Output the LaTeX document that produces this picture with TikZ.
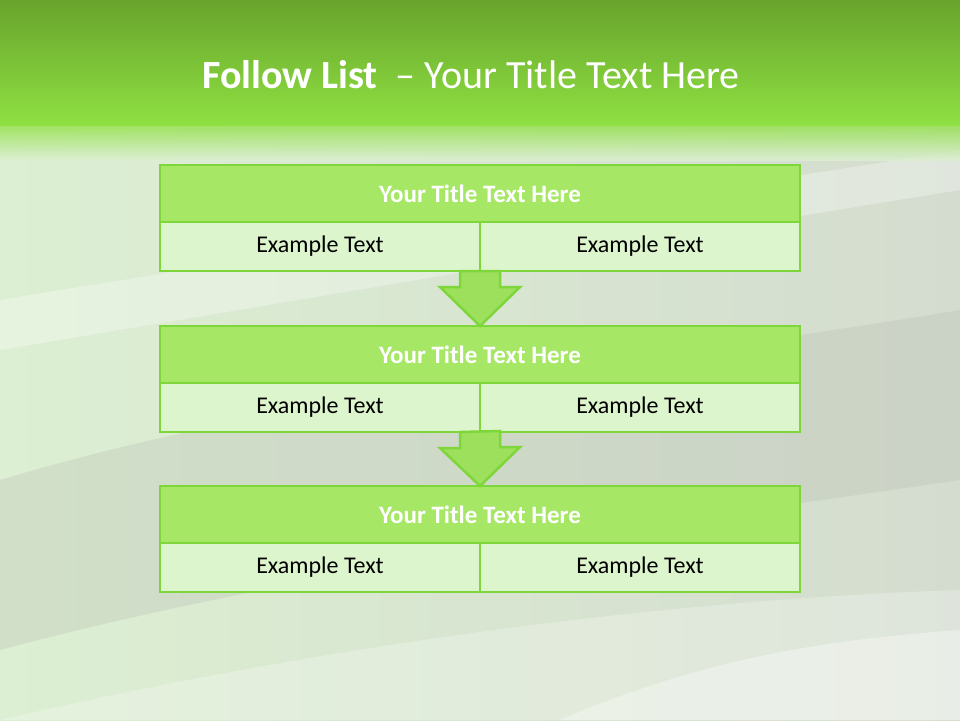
\documentclass[tikz,border=0pt]{standalone}
\usepackage{fontspec}
\setmainfont{Carlito}
\usetikzlibrary{positioning, calc}

\definecolor{bandtop}{HTML}{68A42C}
\definecolor{bandbot}{HTML}{8FE042}
\definecolor{paleleft}{HTML}{DCEFD2}
\definecolor{paleright}{HTML}{D4DCCF}
\definecolor{swoosh}{HTML}{B8BDB4}
\definecolor{headfill}{HTML}{A6E866}
\definecolor{cellfill}{HTML}{DDF5CC}
\definecolor{edgegreen}{HTML}{7ED63A}
\definecolor{arrowfill}{HTML}{9DE05C}

\begin{document}
\begin{tikzpicture}[x=1pt, y=-1pt,
  headrow/.style={draw=edgegreen, line width=2.5pt, fill=headfill,
                  minimum width=640, minimum height=57, outer sep=0pt,
                  text=white, font=\fontsize{25}{30}\selectfont\bfseries},
  cellrow/.style={draw=edgegreen, line width=2.5pt, fill=cellfill,
                  minimum width=320, minimum height=49, outer sep=0pt,
                  text=black, font=\fontsize{24}{29}\selectfont},
  flow/.style={draw=edgegreen, line width=2.5pt, fill=arrowfill, line join=miter}
]
  \useasboundingbox (0,0) rectangle (960,720);

  % background
  \shade[left color=paleleft, right color=paleright] (0,120) rectangle (960,720);
  \fill[swoosh, opacity=0.3] (0,480) .. controls (300,390) and (600,370) .. (960,310)
    -- (960,480) .. controls (620,530) and (300,570) .. (0,650) -- cycle;
  \fill[white, opacity=0.3] (0,300) .. controls (300,250) and (650,200) .. (960,150)
    -- (960,190) .. controls (650,240) and (300,300) .. (0,350) -- cycle;
  \fill[white, opacity=0.25] (0,720) .. controls (300,650) and (650,600) .. (960,590)
    -- (960,720) -- cycle;
  \fill[white, opacity=0.35] (560,720) .. controls (700,660) and (820,640) .. (960,630)
    -- (960,720) -- cycle;
  \shade[top color=bandtop, bottom color=bandbot] (0,0) rectangle (960,125);
  \shade[top color=bandbot, bottom color=paleleft, opacity=0.8] (0,124) rectangle (960,160);

  \node[text=white, font=\fontsize{40}{48}\selectfont] (title) at (471,75)
    {\textbf{Follow List}\ \ – Your Title Text Here};

  % three steps
  \foreach \i/\y in {1/193.5, 2/354.5, 3/514.5} {
    \node[headrow] (head\i) at (480,\y) {Your Title Text Here};
    \node[cellrow, below right=0pt and 0pt of head\i.south west] (cellL\i) {Example Text};
    \node[cellrow, below left=0pt and 0pt of head\i.south east] (cellR\i) {Example Text};
  }

  % arrows between steps
  \foreach \i/\j in {1/2, 2/3} {
    \draw[flow] ([xshift=-20pt]cellL\i.south east) -- ++(0,16) -- ++(-20,0)
      -- (head\j.north) -- ++(40,-39) -- ++(-20,0) -- ++(0,-16) -- cycle;
  }
\end{tikzpicture}
\end{document}
